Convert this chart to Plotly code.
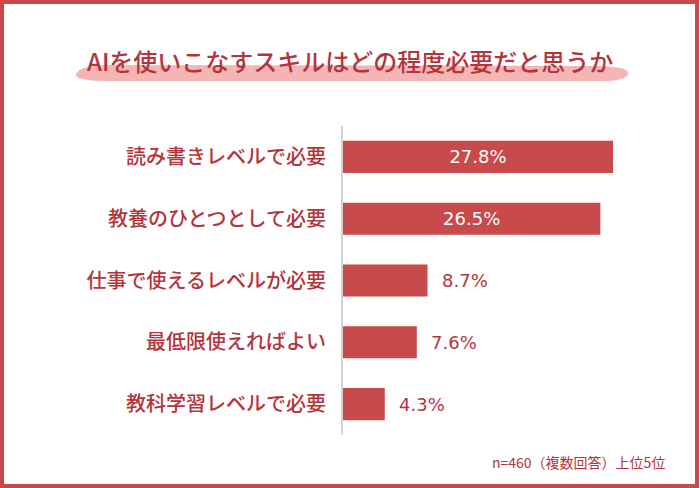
import plotly.graph_objects as go

categories = ["読み書きレベルで必要", "教養のひとつとして必要", "仕事で使えるレベルが必要", "最低限使えればよい", "教科学習レベルで必要"]
values = [27.8, 26.5, 8.7, 7.6, 4.3]
inside = [True, True, False, False, False]
title_text = "AIを使いこなすスキルはどの程度必要だと思うか"
note_text = "n=460（複数回答）上位5位"

W, H = 700, 488
L, R, T, B = 343, 40, 126, 53
PW, PH = W - L - R, H - T - B
px_per_pct = 270 / 27.8
xmax = PW / px_per_pct

def px(x):
    return (x - L) / PW

def py(y):
    return (H - B - y) / PH

BAR = "#c84a4a"
TXT = "#b5333a"
JP = "Noto Sans CJK JP"
NUM = "DejaVu Sans"

fig = go.Figure()
fig.add_trace(go.Bar(
    x=values, y=categories, orientation="h",
    marker=dict(color=BAR, line=dict(width=0)),
    text=[f"{v:.1f}%" if ins else "" for v, ins in zip(values, inside)],
    textposition="inside", insidetextanchor="middle",
    textfont=dict(family=NUM, size=18, color="white"),
    hoverinfo="skip",
))

annotations = []
for c, v, ins in zip(categories, values, inside):
    if not ins:
        annotations.append(dict(x=v, y=c, xref="x", yref="y", text=f"{v:.1f}%",
                                showarrow=False, xanchor="left", xshift=12,
                                font=dict(family=NUM, size=18, color=TXT)))

annotations.append(dict(x=px(350), y=py(60), xref="paper", yref="paper", text=title_text,
                        showarrow=False, xanchor="center", yanchor="middle",
                        font=dict(family=JP, size=24, color=TXT, weight=500)))
annotations.append(dict(x=px(667), y=py(462), xref="paper", yref="paper", text=note_text,
                        showarrow=False, xanchor="right", yanchor="middle",
                        font=dict(family=JP, size=14, color=TXT)))

def P(x, y):
    return f"{px(x):.5f},{py(y):.5f}"

brush = ("M " + P(76, 74) + " Q " + P(80, 65) + " " + P(110, 65) +
         " L " + P(600, 66) + " Q " + P(630, 67) + " " + P(628, 74) +
         " Q " + P(626, 82) + " " + P(595, 81) + " L " + P(110, 81) +
         " Q " + P(74, 81) + " " + P(76, 74) + " Z")

shapes = [
    dict(type="path", path=brush, xref="paper", yref="paper",
         fillcolor="#f2a3a3", line=dict(width=0), layer="below", opacity=0.8),
    dict(type="rect", xref="paper", yref="paper",
         x0=px(2), x1=px(697), y0=py(2), y1=py(486),
         line=dict(color=BAR, width=4), fillcolor="rgba(0,0,0,0)"),
]

fig.update_layout(
    width=W, height=H,
    margin=dict(l=L, r=R, t=T, b=B),
    paper_bgcolor="white", plot_bgcolor="white",
    showlegend=False, bargap=0.48,
    xaxis=dict(range=[0, xmax], showticklabels=False, showgrid=False, zeroline=False,
               showline=False, fixedrange=True),
    yaxis=dict(autorange="reversed", showgrid=False, zeroline=False, showline=True,
               linecolor="#d3d3d3", linewidth=2, ticks="", ticklabelstandoff=11,
               tickfont=dict(family=JP, size=20, color=TXT, weight=500)),
    annotations=annotations, shapes=shapes,
    uniformtext=dict(mode="show", minsize=10),
)

fig.write_html("out.html")
